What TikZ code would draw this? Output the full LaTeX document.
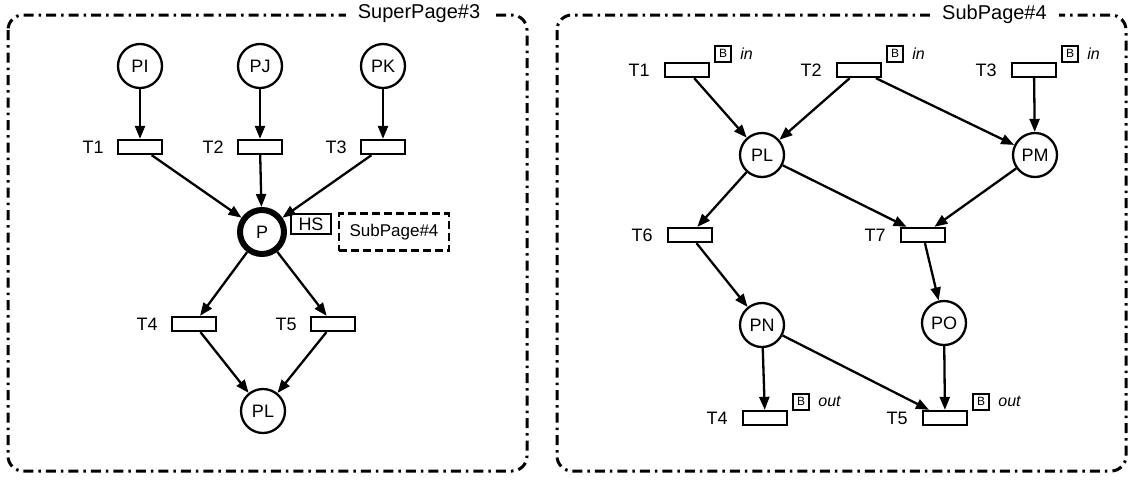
\documentclass[tikz,border=0pt]{standalone}
\usepackage{fontspec}
\setmainfont{Liberation Sans}
\usetikzlibrary{positioning,arrows.meta}
\tikzset{
  place/.style={draw, circle, line width=2.3pt, minimum size=44pt, inner sep=0pt, font=\fontsize{18}{20}\selectfont},
  hplace/.style={place, line width=6pt, minimum size=44pt},
  trans/.style={draw, rectangle, line width=2.3pt, minimum width=44pt, minimum height=14pt, inner sep=0pt},
  tname/.style={inner sep=0pt, font=\fontsize{18}{20}\selectfont},
  portbox/.style={draw, rectangle, line width=2pt, minimum width=16pt, minimum height=16pt, inner sep=0pt, font=\fontsize{12}{13}\selectfont},
  port/.style={inner sep=0pt, font=\fontsize{16}{18}\selectfont\itshape},
  arc/.style={-{Triangle[length=13pt,width=10pt]}, line width=2.3pt},
  pageframe/.style={line width=3pt, rounded corners=15pt, dash pattern=on 10pt off 5pt on 2.5pt off 5pt},
  pagetitle/.style={fill=white, inner xsep=12pt, inner ysep=2pt, font=\fontsize{20}{24}\selectfont}
}

\begin{document}
\begin{tikzpicture}[x=1pt, y=-1pt]
  \useasboundingbox (0,0) rectangle (1134,480);

  % super page
  \draw[pageframe] (8,15) rectangle (527,471);
  \node[pagetitle] (suptitle) at (419,14) {SuperPage\#3};

  \node[place] (pi) at (140,66) {PI};
  \node[place] (pj) at (260,66) {PJ};
  \node[place] (pk) at (383,66) {PK};
  \node[trans] (t1) at (140,147) {};
  \node[trans] (t2) at (260,147) {};
  \node[trans] (t3) at (383,147) {};
  \node[tname, left=13pt of t1] {T1};
  \node[tname, left=13pt of t2] {T2};
  \node[tname, left=13pt of t3] {T3};
  \node[hplace] (p) at (262,232) {P};
  \node[draw, line width=2pt, minimum width=40pt, minimum height=20pt, inner sep=0pt,
        font=\fontsize{18}{20}\selectfont] (hs) at (311,224) {HS};
  \node[draw, line width=2.8pt, dash pattern=on 8pt off 4pt, minimum width=110pt, minimum height=37pt,
        inner sep=0pt, font=\fontsize{17}{20}\selectfont] (subref) at (394,232) {SubPage\#4};
  \node[trans] (t4) at (194,324) {};
  \node[trans] (t5) at (333,324) {};
  \node[tname, left=13pt of t4] {T4};
  \node[tname, left=13pt of t5] {T5};
  \node[place] (pl) at (263,411) {PL};

  \draw[arc] (pi) -- (t1);
  \draw[arc] (pj) -- (t2);
  \draw[arc] (pk) -- (t3);
  \draw[arc] (t1) -- (p);
  \draw[arc] (t2) -- (p);
  \draw[arc] (t3) -- (p);
  \draw[arc] (p) -- (t4);
  \draw[arc] (p) -- (t5);
  \draw[arc] (t4) -- (pl);
  \draw[arc] (t5) -- (pl);

  % sub page
  \draw[pageframe] (557,15) rectangle (1126,471);
  \node[pagetitle, anchor=west] (subtitle) at (930,14) {SubPage\#4};

  \node[trans] (s1) at (687,70) {};
  \node[trans] (s2) at (859,70) {};
  \node[trans] (s3) at (1034,70) {};
  \node[tname, left=14pt of s1] {T1};
  \node[tname, left=14pt of s2] {T2};
  \node[tname, left=14pt of s3] {T3};
  \node[portbox, anchor=south west] (b1) at ([xshift=4pt, yshift=-1pt]s1.north east) {B};
  \node[portbox, anchor=south west] (b2) at ([xshift=4pt, yshift=-1pt]s2.north east) {B};
  \node[portbox, anchor=south west] (b3) at ([xshift=4pt, yshift=-1pt]s3.north east) {B};
  \node[port, right=8pt of b1] {in};
  \node[port, right=8pt of b2] {in};
  \node[port, right=8pt of b3] {in};

  \node[place] (spl) at (762,155) {PL};
  \node[place] (spm) at (1035,155) {PM};
  \node[trans] (s6) at (690,235) {};
  \node[trans] (s7) at (923,235) {};
  \node[tname, left=14pt of s6] {T6};
  \node[tname, left=14pt of s7] {T7};
  \node[place] (spn) at (762,325) {PN};
  \node[place] (spo) at (944,323) {PO};
  \node[trans] (s4) at (765,418) {};
  \node[trans] (s5) at (945,418) {};
  \node[tname, left=14pt of s4] {T4};
  \node[tname, left=14pt of s5] {T5};
  \node[portbox, anchor=south west] (b4) at ([xshift=4pt, yshift=-1pt]s4.north east) {B};
  \node[portbox, anchor=south west] (b5) at ([xshift=4pt, yshift=-1pt]s5.north east) {B};
  \node[port, right=8pt of b4] {out};
  \node[port, right=8pt of b5] {out};

  \draw[arc] (s1) -- (spl);
  \draw[arc] (s2) -- (spl);
  \draw[arc] (s2) -- (spm);
  \draw[arc] (s3) -- (spm);
  \draw[arc] (spl) -- (s6);
  \draw[arc] (spl) -- (s7);
  \draw[arc] (spm) -- (s7);
  \draw[arc] (s6) -- (spn);
  \draw[arc] (s7) -- (spo);
  \draw[arc] (spn) -- (s4);
  \draw[arc] (spn) -- (s5);
  \draw[arc] (spo) -- (s5);
\end{tikzpicture}
\end{document}
